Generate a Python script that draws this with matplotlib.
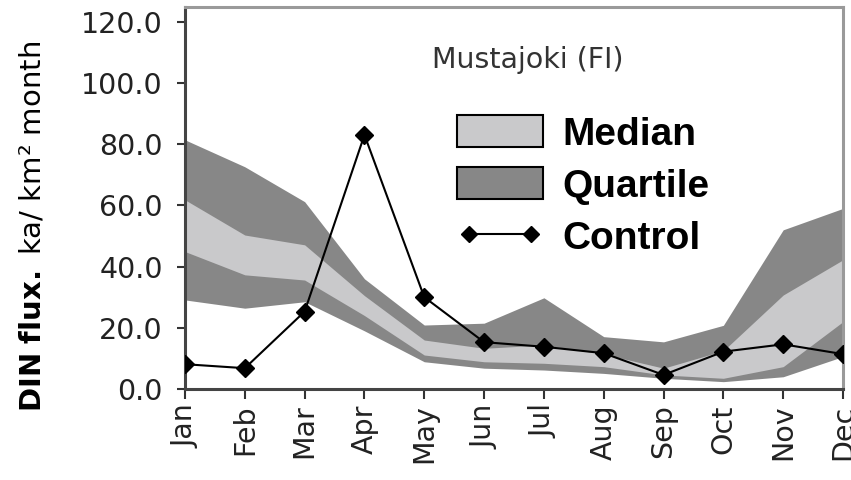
import matplotlib
matplotlib.use("Agg")
import matplotlib.pyplot as plt
from matplotlib.patches import Patch
from matplotlib.lines import Line2D

months = ["Jan", "Feb", "Mar", "Apr", "May", "Jun",
          "Jul", "Aug", "Sep", "Oct", "Nov", "Dec"]

# Monthly DIN flux, Mustajoki (FI)
control = [8.1, 6.8, 25.3, 83.0, 30.0, 15.3, 13.8, 11.7, 4.6, 12.2, 14.6, 11.4]
quartile_high = [81.4, 72.6, 61.2, 36.0, 20.9, 21.5, 29.8, 17.1, 15.4, 20.8, 52.0, 59.0]
median_high = [61.8, 50.3, 47.1, 30.5, 16.0, 13.3, 14.4, 11.4, 6.8, 12.5, 30.7, 42.2]
median_low = [44.9, 37.3, 35.6, 24.0, 11.1, 8.9, 8.4, 7.3, 4.6, 3.5, 7.3, 22.0]
quartile_low = [29.1, 26.4, 28.5, 19.0, 8.9, 6.8, 6.2, 5.1, 3.5, 2.4, 4.0, 10.6]

yticks = [0, 20, 40, 60, 80, 100, 120]

DARK = "#878787"
LIGHT = "#c9c9cb"

fig = plt.figure(figsize=(8.51, 4.80), dpi=100)
ax = fig.add_axes([185 / 851, 1 - 389 / 480, (843 - 185) / 851, (389 - 7) / 480])

x = list(range(len(months)))
ax.fill_between(x, quartile_low, quartile_high, color=DARK, linewidth=0, zorder=1)
ax.fill_between(x, median_low, median_high, color=LIGHT, linewidth=0, zorder=2)
ax.plot(x, control, color="black", linewidth=1.5, marker="D", markersize=9,
        markerfacecolor="black", markeredgecolor="black", zorder=3)

ax.set_xlim(0, len(months) - 1)
ax.set_ylim(0, 124.8)
ax.set_yticks(yticks)
ax.set_yticklabels([f"{v:.1f}" for v in yticks])
ax.set_xticks(x)
ax.set_xticklabels(months, rotation=90)

ax.tick_params(axis="y", direction="out", length=6, width=1.5, pad=10,
               labelsize=20.5, labelcolor="#222222", color="#333333")
ax.tick_params(axis="x", direction="out", length=7, width=1.5, pad=4,
               labelsize=20.5, labelcolor="#222222", color="#333333")

for side in ("left", "bottom"):
    ax.spines[side].set_color("#444444")
    ax.spines[side].set_linewidth(2.2)
for side in ("top", "right"):
    ax.spines[side].set_color("#9a9a9a")
    ax.spines[side].set_linewidth(2.2)

ax.text(0.521, 0.861, "Mustajoki (FI)", transform=ax.transAxes,
        ha="center", va="center", fontsize=20.5, color="#333333")

handles = [
    Patch(facecolor=LIGHT, edgecolor="black", linewidth=1.5, label="Median"),
    Patch(facecolor=DARK, edgecolor="black", linewidth=1.5, label="Quartile"),
    Line2D([0], [0], color="black", linewidth=1.5, marker="D", markersize=8,
           label="Control"),
]
ax.legend(handles=handles, loc="upper left", bbox_to_anchor=(0.4134, 0.717),
          frameon=False, borderpad=0, borderaxespad=0, numpoints=2,
          handlelength=2.2, handleheight=0.9, handletextpad=0.5,
          labelspacing=0.37,
          prop={"family": "Liberation Sans", "weight": "bold", "size": 28})

fig.text(33 / 851, 1 - 226 / 480,
         r"$\mathbf{DIN\ flux.}$ ka/ km² month",
         rotation=90, ha="center", va="center", fontsize=21, color="black")

fig.savefig("out.png", dpi=100, facecolor="white")
